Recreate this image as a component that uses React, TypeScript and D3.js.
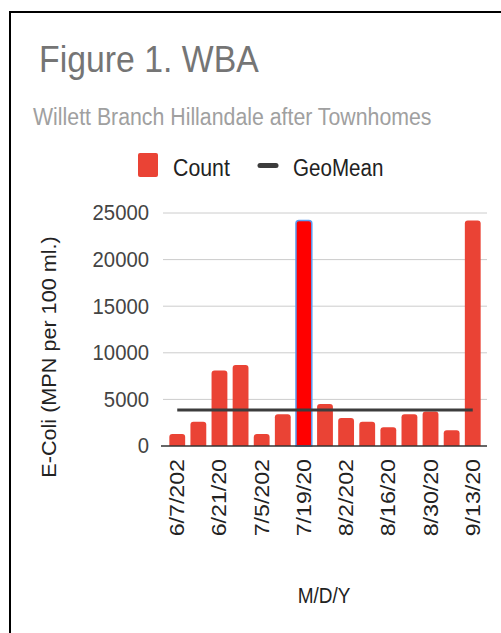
import React, { useRef, useEffect } from "react";
import * as d3 from "d3";

// Fechas de muestreo (semanales)
const dates = [
  "6/7/2020", "6/14/2020", "6/21/2020", "6/28/2020", "7/5/2020",
  "7/12/2020", "7/19/2020", "7/26/2020", "8/2/2020", "8/9/2020",
  "8/16/2020", "8/23/2020", "8/30/2020", "9/6/2020", "9/13/2020",
];
// E-Coli (MPN per 100 ml.)
const counts = [
  1300, 2600, 8100, 8700, 1300, 3400, 24196, 4500, 3000, 2600, 2000, 3400,
  3700, 1700, 24196,
];
const geoMean = [
  3850, 3850, 3850, 3850, 3850, 3850, 3850, 3850, 3850, 3850, 3850, 3850,
  3850, 3850, 3850,
];
const tickDates = [
  "6/7/2020", "6/21/2020", "7/5/2020", "7/19/2020", "8/2/2020",
  "8/16/2020", "8/30/2020", "9/13/2020",
];
const yTicks = [0, 5000, 10000, 15000, 20000, 25000];
const highlighted = "7/19/2020";

const FONT = "'Liberation Sans', Arial, sans-serif";
const K = 1.12; // estiramiento vertical del texto

const Chart = ({ width = 501, height = 633 }) => {
  const ref = useRef(null);

  useEffect(() => {
    const container = ref.current;
    if (!container) return;
    d3.select(container).selectChildren().remove();

    const svg = d3.select(container).append("g").style("font-family", FONT);

    const left = 163,
      right = 487,
      top = 213,
      bottom = 446;

    const x = d3
      .scaleBand()
      .domain(dates)
      .range([left, right])
      .paddingInner(0.25)
      .paddingOuter(0.3);
    const y = d3.scaleLinear().domain([0, 25000]).range([bottom, top]);

    // Marco
    svg
      .append("rect")
      .attr("x", 0)
      .attr("y", 0)
      .attr("width", width)
      .attr("height", height)
      .attr("fill", "white");
    svg
      .append("path")
      .attr("d", `M10,${height + 5} V12 H${width + 5}`)
      .attr("fill", "none")
      .attr("stroke", "black")
      .attr("stroke-width", 2);

    const text = (tx, ty, str, size, color, anchor = "start", rot = false, k = K) =>
      svg
        .append("text")
        .attr(
          "transform",
          `translate(${tx},${ty}) scale(1,${k})${rot ? " rotate(-90)" : ""}`
        )
        .attr("text-anchor", anchor)
        .style("font-size", `${size}px`)
        .attr("fill", color)
        .text(str);

    // Títulos
    text(39, 71.5, "Figure 1. WBA", 33.8, "#757575");
    text(33, 125, "Willett Branch Hillandale after Townhomes", 21.3, "#a0a0a0");

    // Leyenda
    svg
      .append("rect")
      .attr("x", 138)
      .attr("y", 153)
      .attr("width", 20)
      .attr("height", 24)
      .attr("rx", 2)
      .attr("fill", "#ea4335");
    text(173, 175.5, "Count", 21.3, "#222");
    svg
      .append("line")
      .attr("x1", 260)
      .attr("x2", 276)
      .attr("y1", 165.5)
      .attr("y2", 165.5)
      .attr("stroke", "#3c3c3c")
      .attr("stroke-width", 5)
      .attr("stroke-linecap", "round");
    text(293, 175.5, "GeoMean", 20.6, "#222");

    // Rejilla y etiquetas del eje Y
    svg
      .append("g")
      .selectAll("line")
      .data(yTicks.filter((d) => d > 0))
      .enter()
      .append("line")
      .attr("x1", left)
      .attr("x2", right)
      .attr("y1", (d) => y(d))
      .attr("y2", (d) => y(d))
      .attr("stroke", "#cccccc")
      .attr("stroke-width", 1);

    yTicks.forEach((d) =>
      text(149, y(d) + 7.3, String(d), 20.3, "#444", "end")
    );

    // Barras
    const bw = x.bandwidth();
    const barPath = (d, i) => {
      const x0 = x(d);
      const y0 = y(counts[i]);
      const h = bottom - y0;
      const r = Math.min(3, h / 2, bw / 2);
      return `M${x0},${bottom} V${y0 + r} Q${x0},${y0} ${x0 + r},${y0} H${
        x0 + bw - r
      } Q${x0 + bw},${y0} ${x0 + bw},${y0 + r} V${bottom} Z`;
    };

    svg
      .append("g")
      .selectAll("path")
      .data(dates)
      .enter()
      .append("path")
      .attr("d", barPath)
      .attr("fill", (d) => (d === highlighted ? "#ff0000" : "#ea4335"))
      .attr("stroke", (d) => (d === highlighted ? "#5b9bf0" : "none"))
      .attr("stroke-width", 1.5);

    // Eje X
    svg
      .append("line")
      .attr("x1", left - 2)
      .attr("x2", right)
      .attr("y1", bottom)
      .attr("y2", bottom)
      .attr("stroke", "#333")
      .attr("stroke-width", 1.5);

    // Línea GeoMean
    const line = d3
      .line()
      .x((d, i) => x(dates[i]) + bw / 2)
      .y((d) => y(d));
    svg
      .append("path")
      .datum(geoMean)
      .attr("d", line)
      .attr("fill", "none")
      .attr("stroke", "#3c3c3c")
      .attr("stroke-width", 3);

    // Etiquetas X (giradas y truncadas)
    tickDates.forEach((d) =>
      text(
        x(d) + bw / 2 + 7,
        459,
        d.slice(0, 7),
        20,
        "#222",
        "end",
        true,
        1.16
      )
    );

    // Rótulos de ejes
    text(56, 357, "E-Coli (MPN per 100 ml.)", 19.3, "#222", "middle", true);
    text(324, 603, "M/D/Y", 19, "#222", "middle");
  }, [width, height]);

  return <svg width={width} height={height} ref={ref} />;
};

export default function App() {
  return (
    <div style={{ position: "absolute", left: 0, top: 0 }}>
      <Chart />
    </div>
  );
}
